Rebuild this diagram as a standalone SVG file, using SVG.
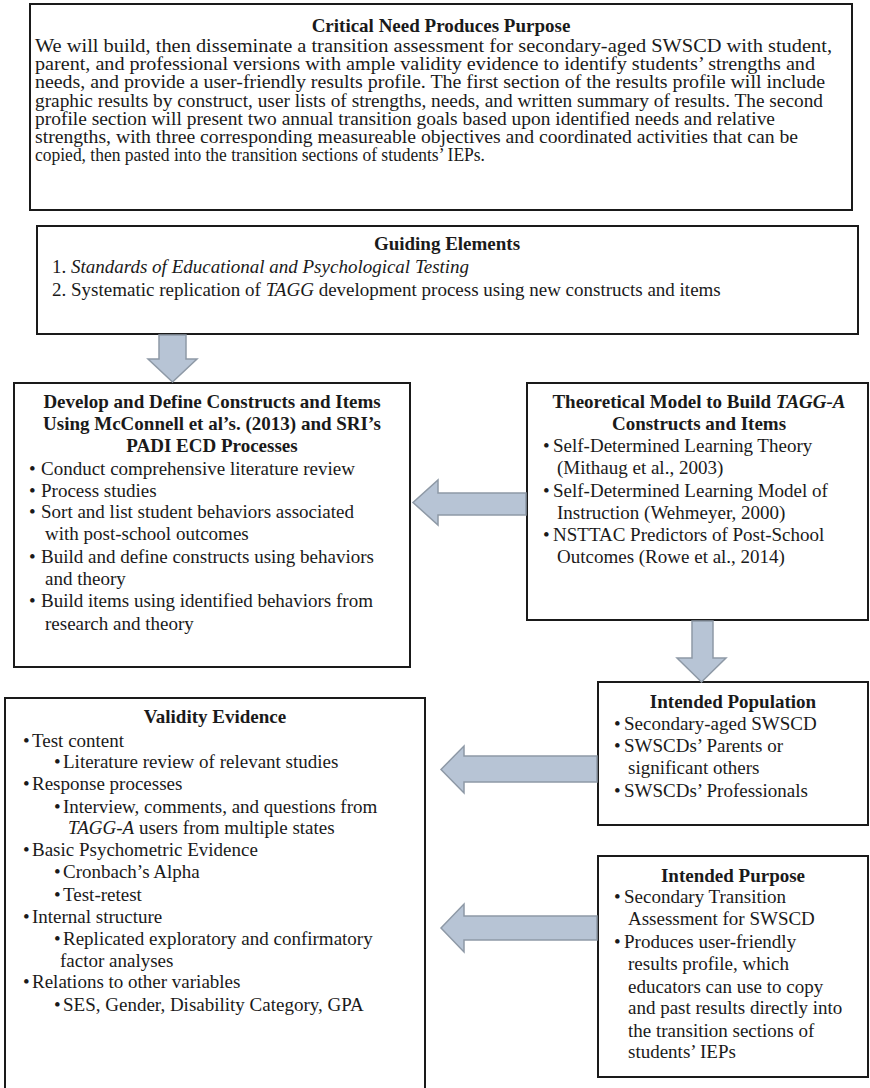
<svg xmlns="http://www.w3.org/2000/svg" width="870" height="1088" viewBox="0 0 870 1088">
<style>
.t{font-family:"Liberation Serif","Times New Roman",serif;font-size:19px;fill:#1a1a1a}
.s{font-size:18px}
.b{font-weight:bold}
.i{font-style:italic}
.c{text-anchor:middle}
.box{fill:#fff;stroke:#1a1a1a;stroke-width:2}
.arr{fill:#b7c4d5;stroke:#8e99a6;stroke-width:1.5;stroke-linejoin:miter}
</style>
<rect width="870" height="1088" fill="#fff"/>

<g id="critical-need">
<rect class="box" x="30" y="4" width="822" height="206" stroke-width="2.5"/>
<text class="t b c" x="441" y="32">Critical Need Produces Purpose</text>
<text class="t s" x="35" y="52" textLength="797" lengthAdjust="spacingAndGlyphs">We will build, then disseminate a transition assessment for secondary-aged SWSCD with student,</text>
<text class="t s" x="35" y="70.2" textLength="780" lengthAdjust="spacingAndGlyphs">parent, and professional versions with ample validity evidence to identify students’ strengths and</text>
<text class="t s" x="35" y="88.4" textLength="790" lengthAdjust="spacingAndGlyphs">needs, and provide a user-friendly results profile. The first section of the results profile will include</text>
<text class="t s" x="35" y="106.6" textLength="788" lengthAdjust="spacingAndGlyphs">graphic results by construct, user lists of strengths, needs, and written summary of results. The second</text>
<text class="t s" x="35" y="124.8" textLength="740" lengthAdjust="spacingAndGlyphs">profile section will present two annual transition goals based upon identified needs and relative</text>
<text class="t s" x="35" y="143" textLength="763" lengthAdjust="spacingAndGlyphs">strengths, with three corresponding measureable objectives and coordinated activities that can be</text>
<text class="t s" x="35" y="161.2" textLength="450" lengthAdjust="spacingAndGlyphs">copied, then pasted into the transition sections of students’ IEPs.</text>
</g>

<g id="guiding-elements">
<rect class="box" x="37" y="226" width="821" height="108" stroke-width="2.5"/>
<text class="t b c" x="447" y="250">Guiding Elements</text>
<text class="t" x="52" y="273">1. <tspan class="i">Standards of Educational and Psychological Testing</tspan></text>
<text class="t" x="52" y="296">2. Systematic replication of <tspan class="i">TAGG</tspan> development process using new constructs and items</text>
</g>

<g id="develop-define">
<rect class="box" x="14" y="383" width="396" height="284"/>
<text class="t b c" x="212" y="408">Develop and Define Constructs and Items</text>
<text class="t b c" x="212" y="430">Using McConnell et al’s. (2013) and SRI’s</text>
<text class="t b c" x="212" y="452">PADI ECD Processes</text>
<text class="t" x="29" y="475">•</text><text class="t" x="41" y="475">Conduct comprehensive literature review</text>
<text class="t" x="29" y="497">•</text><text class="t" x="41" y="497">Process studies</text>
<text class="t" x="29" y="518">•</text><text class="t" x="41" y="518">Sort and list student behaviors associated</text>
<text class="t" x="45" y="540">with post-school outcomes</text>
<text class="t" x="29" y="563">•</text><text class="t" x="41" y="563">Build and define constructs using behaviors</text>
<text class="t" x="45" y="585">and theory</text>
<text class="t" x="29" y="607">•</text><text class="t" x="41" y="607">Build items using identified behaviors from</text>
<text class="t" x="45" y="630">research and theory</text>
</g>

<g id="theoretical-model">
<rect class="box" x="527" y="383" width="341" height="237"/>
<text class="t b c" x="699" y="408">Theoretical Model to Build <tspan class="i">TAGG-A</tspan></text>
<text class="t b c" x="699" y="430">Constructs and Items</text>
<text class="t" x="543" y="452">•</text><text class="t" x="553" y="452">Self-Determined Learning Theory</text>
<text class="t" x="557" y="474">(Mithaug et al., 2003)</text>
<text class="t" x="543" y="497">•</text><text class="t" x="553" y="497">Self-Determined Learning Model of</text>
<text class="t" x="557" y="519">Instruction (Wehmeyer, 2000)</text>
<text class="t" x="543" y="541">•</text><text class="t" x="553" y="541">NSTTAC Predictors of Post-School</text>
<text class="t" x="557" y="563">Outcomes (Rowe et al., 2014)</text>
</g>

<g id="validity-evidence">
<path class="box" d="M5,1095 V698 H425 V1095"/>
<text class="t b c" x="215" y="723">Validity Evidence</text>
<text class="t" x="23" y="747">•</text><text class="t" x="32" y="747">Test content</text>
<text class="t" x="54" y="768">•</text><text class="t" x="63" y="768">Literature review of relevant studies</text>
<text class="t" x="23" y="790">•</text><text class="t" x="32" y="790">Response processes</text>
<text class="t" x="54" y="813">•</text><text class="t" x="63" y="813">Interview, comments, and questions from</text>
<text class="t" x="68" y="834"><tspan class="i">TAGG-A</tspan> users from multiple states</text>
<text class="t" x="23" y="856">•</text><text class="t" x="32" y="856">Basic Psychometric Evidence</text>
<text class="t" x="54" y="878">•</text><text class="t" x="63" y="878">Cronbach’s Alpha</text>
<text class="t" x="54" y="901">•</text><text class="t" x="63" y="901">Test-retest</text>
<text class="t" x="23" y="923">•</text><text class="t" x="32" y="923">Internal structure</text>
<text class="t" x="54" y="945">•</text><text class="t" x="63" y="945">Replicated exploratory and confirmatory</text>
<text class="t" x="60" y="967">factor analyses</text>
<text class="t" x="23" y="988">•</text><text class="t" x="32" y="988">Relations to other variables</text>
<text class="t" x="54" y="1011">•</text><text class="t" x="63" y="1011">SES, Gender, Disability Category, GPA</text>
</g>

<g id="intended-population">
<rect class="box" x="598" y="682" width="270" height="143"/>
<text class="t b c" x="733" y="708">Intended Population</text>
<text class="t" x="614" y="730">•</text><text class="t" x="624" y="730">Secondary-aged SWSCD</text>
<text class="t" x="614" y="752">•</text><text class="t" x="624" y="752">SWSCDs’ Parents or</text>
<text class="t" x="628" y="774">significant others</text>
<text class="t" x="614" y="797">•</text><text class="t" x="624" y="797">SWSCDs’ Professionals</text>
</g>

<g id="intended-purpose">
<rect class="box" x="598" y="856" width="270" height="221"/>
<text class="t b c" x="733" y="882">Intended Purpose</text>
<text class="t" x="614" y="903">•</text><text class="t" x="624" y="903">Secondary Transition</text>
<text class="t" x="628" y="925">Assessment for SWSCD</text>
<text class="t" x="614" y="948">•</text><text class="t" x="624" y="948">Produces user-friendly</text>
<text class="t" x="628" y="970">results profile, which</text>
<text class="t" x="628" y="993">educators can use to copy</text>
<text class="t" x="628" y="1014">and past results directly into</text>
<text class="t" x="628" y="1037">the transition sections of</text>
<text class="t" x="628" y="1058">students’ IEPs</text>
</g>

<g id="connectors">
<path class="arr" d="M159,335 H186 V359 H197 L172.5,382 L148,359 H159 Z"/>
<path class="arr" d="M692,621 H713 V658 H726 L701.5,682 L677,658 H692 Z"/>
<path class="arr" d="M526,493 V515 H438 V525 L413,502.5 L438,480 V493 Z"/>
<path class="arr" d="M597,756 V782 H464 V793 L441,769.5 L464,746 V756 Z"/>
<path class="arr" d="M597,916 V940 H464 V952 L441,928 L464,904 V916 Z"/>
</g>
</svg>
